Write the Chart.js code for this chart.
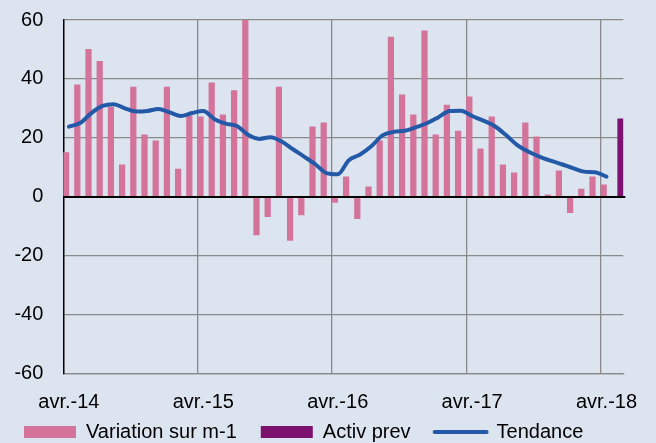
<!DOCTYPE html>
<html>
<head>
<meta charset="utf-8">
<script src="https://cdn.jsdelivr.net/npm/chart.js@4.4.1/dist/chart.umd.min.js"></script>
<style>
    html, body { margin: 0; padding: 0; background: #dce4ef; overflow: hidden; }
    canvas { display: block; }
</style>
</head>
<body>
<canvas id="variationChart" width="656" height="443"></canvas>
<script>
// months shown on the x axis: avr.-14 .. mai-18
const monthNames = ['janv.', 'févr.', 'mars', 'avr.', 'mai', 'juin', 'juil.', 'août', 'sept.', 'oct.', 'nov.', 'déc.'];
const startMonth = 3;
const startYear = 14;
const monthCount = 50;

const seriesNames = ['Variation sur m-1', 'Activ prev', 'Tendance'];

const variation = [
    15, 38, 50, 46, 30.4, 10.8, 37.2, 21, 19, 37.2, 9.4, 27.4,
    27.1, 38.7, 27.8, 36, 60.5, -13, -6.8, 37.2, -14.9, -6.2, 23.7, 25.1,
    -2, 6.7, -7.5, 3.3, 19, 54.2, 34.6, 27.8, 56.3, 21, 31.1, 22.3,
    33.9, 16.2, 27.1, 10.8, 8.1, 25.1, 20.3, 0.6, 8.8, -5.4, 2.6, 6.7,
    4.0, null
];

const activPrevMonth = 'mai-18';
const activPrevValue = 26.4;

const tendance = [
    23.8, 25.0, 28.4, 30.8, 31.4, 30.0, 28.9, 29.1, 29.8, 28.6, 27.4, 28.4,
    29.1, 26.3, 24.8, 24.0, 21.0, 19.6, 20.2, 18.7, 16.1, 13.6, 11.0, 8.0,
    7.6, 12.4, 14.3, 17.1, 20.8, 22.0, 22.4, 23.6, 25.0, 27.0, 29.1, 29.2,
    27.4, 25.8, 24.0, 21.0, 17.6, 15.3, 13.6, 12.2, 11.0, 9.7, 8.5, 8.3,
    6.8, null
];

const labels = [];
for (let i = 0; i < monthCount; i++) {
    const m = (startMonth + i) % 12;
    const y = startYear + Math.floor((startMonth + i) / 12);
    labels.push(monthNames[m] + '-' + y);
}

const pink = '#d4749a';
const purple = '#7c1371';
const blue = '#2359a7';
const gridGray = '#8a8a8a';
const font = { family: '"Liberation Sans", Arial, sans-serif', size: 20 };

// black zero line drawn over the bars
const zeroLine = {
    id: 'zeroLine',
    afterDatasetsDraw(chart) {
        const { ctx, chartArea, scales } = chart;
        const y0 = Math.round(scales.y.getPixelForValue(0));
        ctx.save();
        ctx.strokeStyle = '#000';
        ctx.lineWidth = 2;
        ctx.beginPath();
        ctx.moveTo(chartArea.left, y0);
        ctx.lineTo(chartArea.right + 2, y0);
        ctx.stroke();
        ctx.restore();
    }
};

// pull the legend up closer to the tick labels
const legendShift = {
    id: 'legendShift',
    afterLayout(chart) {
        chart.legend.top -= 16.3;
        chart.legend.bottom -= 16.3;
    }
};

const config = {
    type: 'bar',
    data: {
        labels: labels,
        datasets: [
            {
                label: seriesNames[0],
                data: variation,
                backgroundColor: pink,
                categoryPercentage: 1,
                barPercentage: 1,
                order: 2,
            },
            {
                label: seriesNames[1],
                data: [{ x: activPrevMonth, y: activPrevValue }],
                backgroundColor: purple,
                categoryPercentage: 1,
                barPercentage: 1,
                order: 2,
            },
            {
                type: 'line',
                label: seriesNames[2],
                data: tendance,
                borderColor: blue,
                borderWidth: 4,
                pointRadius: 0,
                cubicInterpolationMode: 'monotone',
                borderCapStyle: 'round',
                order: 1,
            },
        ]
    },
    options: {
        responsive: false,
        devicePixelRatio: 1,
        animation: false,
        layout: {
            padding: { left: 0, right: 32.7, top: 20, bottom: -25.3 }
        },
        scales: {
            x: {
                offset: true,
                afterFit: (scale) => { scale.height = 41; },
                grid: {
                    offset: true,
                    drawTicks: false,
                    color: (ctx) => (ctx.index > 0 && ctx.index % 12 === 0) ? gridGray : 'transparent',
                    lineWidth: 1.3,
                },
                border: { color: gridGray, width: 1.3 },
                ticks: {
                    autoSkip: false,
                    maxRotation: 0,
                    padding: 17,
                    color: '#000',
                    font: font,
                    callback: function (value, index) {
                        return index % 12 === 0 ? this.getLabelForValue(value) : '';
                    }
                }
            },
            y: {
                min: -60,
                max: 60,
                afterFit: (scale) => {
                    scale.width = 63.3;
                    scale.paddingTop = 0;
                },
                grid: {
                    drawTicks: false,
                    color: (ctx) => ctx.tick && ctx.tick.value === 0 ? 'transparent' : gridGray,
                    lineWidth: 1.3,
                },
                border: { color: '#000', width: 1.5 },
                ticks: {
                    stepSize: 20,
                    padding: 20,
                    color: '#000',
                    font: font,
                }
            }
        },
        plugins: {
            tooltip: { enabled: false },
            legend: {
                position: 'bottom',
                align: 'start',
                labels: {
                    usePointStyle: true,
                    pointStyleWidth: 52,
                    boxHeight: 12,
                    padding: 24,
                    color: '#000',
                    font: font,
                    generateLabels: () => [
                        { text: seriesNames[0], fillStyle: pink, strokeStyle: pink, lineWidth: 0, pointStyle: 'rect', datasetIndex: 0, hidden: false },
                        { text: seriesNames[1], fillStyle: purple, strokeStyle: purple, lineWidth: 0, pointStyle: 'rect', datasetIndex: 1, hidden: false },
                        { text: seriesNames[2], fillStyle: blue, strokeStyle: blue, lineWidth: 4, lineCap: 'round', pointStyle: 'line', datasetIndex: 2, hidden: false },
                    ]
                }
            }
        }
    },
    plugins: [zeroLine, legendShift]
};

new Chart(document.getElementById('variationChart'), config);
</script>
</body>
</html>
